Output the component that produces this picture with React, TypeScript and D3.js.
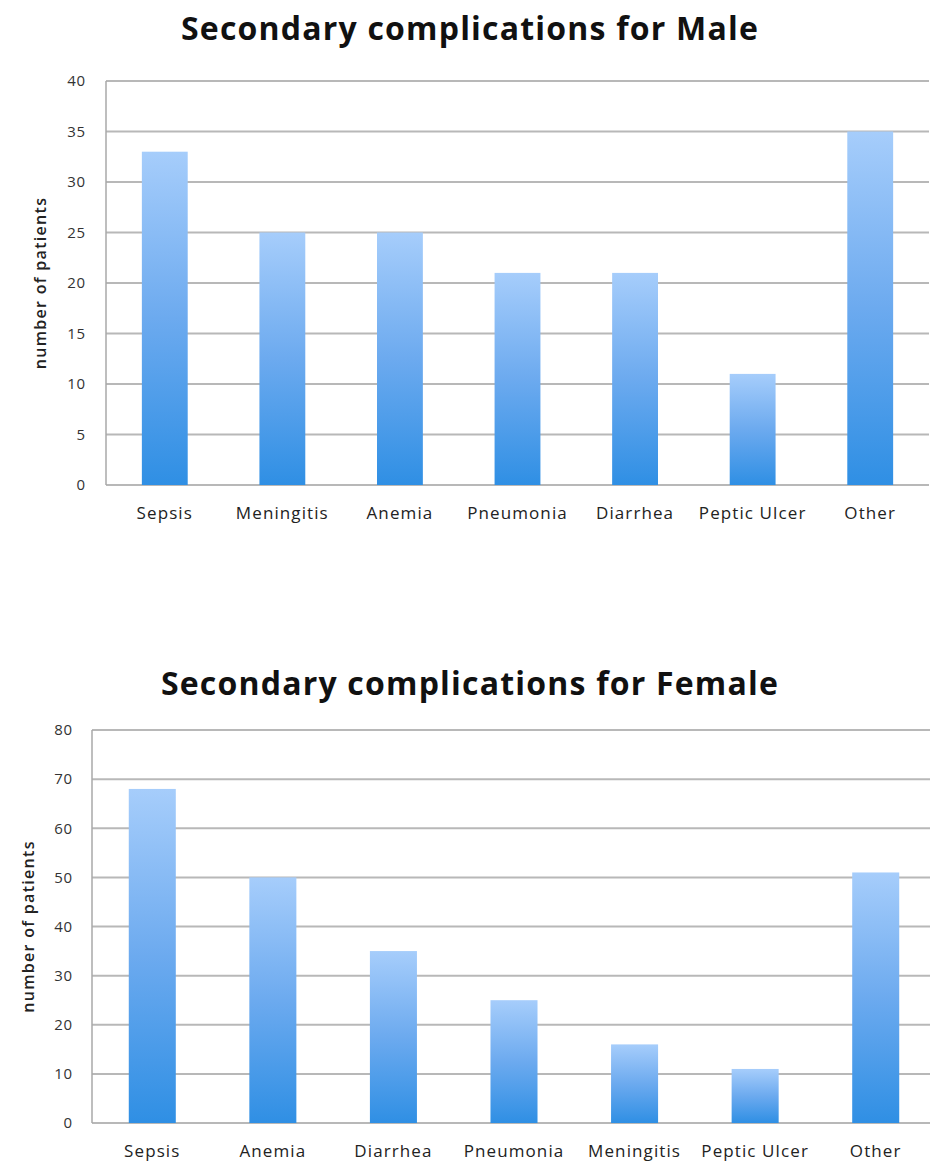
import { useEffect, useRef } from "react";
import { select, scaleBand, scaleLinear, range } from "d3";

const maleCategories = ["Sepsis", "Meningitis", "Anemia", "Pneumonia", "Diarrhea", "Peptic Ulcer", "Other"];
const maleValues = [33, 25, 25, 21, 21, 11, 35];
const maleTicks = range(0, 41, 5);

const femaleCategories = ["Sepsis", "Anemia", "Diarrhea", "Pneumonia", "Meningitis", "Peptic Ulcer", "Other"];
const femaleValues = [68, 50, 35, 25, 16, 11, 51];
const femaleTicks = range(0, 81, 10);

const yLabel = "number of patients";
const font = "'Open Sans', sans-serif";

interface Panel {
	id: string;
	title: string;
	categories: string[];
	values: number[];
	ticks: number[];
	left: number;
	right: number;
	top: number;
	bottom: number;
	titleY: number;
	tickX: number;
	labelX: number;
}

const panels: Panel[] = [
	{
		id: "male",
		title: "Secondary complications for Male",
		categories: maleCategories,
		values: maleValues,
		ticks: maleTicks,
		left: 106,
		right: 929,
		top: 81,
		bottom: 485,
		titleY: 40,
		tickX: 86,
		labelX: 46,
	},
	{
		id: "female",
		title: "Secondary complications for Female",
		categories: femaleCategories,
		values: femaleValues,
		ticks: femaleTicks,
		left: 92,
		right: 936,
		top: 730,
		bottom: 1123,
		titleY: 695,
		tickX: 73,
		labelX: 34,
	},
];

function drawPanel(svgEl: SVGSVGElement, p: Panel) {
	const svg = select(svgEl);
	const g = svg.append("g");

	const x = scaleBand()
		.domain(p.categories)
		.range([p.left, p.right])
		.paddingInner(0.61)
		.paddingOuter(0.305);
	const y = scaleLinear()
		.domain([0, p.ticks[p.ticks.length - 1]])
		.range([p.bottom, p.top]);

	g.append("text")
		.attr("x", 470)
		.attr("y", p.titleY)
		.attr("text-anchor", "middle")
		.attr("font-family", font)
		.attr("font-weight", 700)
		.attr("font-size", 32)
		.attr("letter-spacing", 1.2)
		.attr("fill", "#111")
		.text(p.title);

	// gridlines
	g.selectAll("line.grid")
		.data(p.ticks)
		.enter()
		.append("line")
		.attr("x1", p.left)
		.attr("x2", p.right)
		.attr("y1", (d) => y(d))
		.attr("y2", (d) => y(d))
		.attr("stroke", "#b8b8b8")
		.attr("stroke-width", 2);

	g.append("line")
		.attr("x1", p.left)
		.attr("x2", p.left)
		.attr("y1", p.top)
		.attr("y2", p.bottom)
		.attr("stroke", "#a8a8a8")
		.attr("stroke-width", 1.5);

	g.selectAll("text.tick")
		.data(p.ticks)
		.enter()
		.append("text")
		.attr("x", p.tickX)
		.attr("y", (d) => y(d))
		.attr("dy", "0.35em")
		.attr("text-anchor", "end")
		.attr("font-family", font)
		.attr("font-size", 15)
		.attr("letter-spacing", 0.8)
		.attr("fill", "#333")
		.text((d) => d);

	g.selectAll("rect.bar")
		.data(p.values)
		.enter()
		.append("rect")
		.attr("x", (_, i) => x(p.categories[i]) ?? 0)
		.attr("width", x.bandwidth())
		.attr("y", (d) => y(d))
		.attr("height", (d) => p.bottom - y(d))
		.attr("fill", "url(#barGrad)");

	g.selectAll("text.cat")
		.data(p.categories)
		.enter()
		.append("text")
		.attr("x", (d) => (x(d) ?? 0) + x.bandwidth() / 2)
		.attr("y", p.bottom + 34)
		.attr("text-anchor", "middle")
		.attr("font-family", font)
		.attr("font-size", 17)
		.attr("letter-spacing", 1.1)
		.attr("fill", "#222")
		.text((d) => d);

	g.append("text")
		.attr("transform", `translate(${p.labelX},${(p.top + p.bottom) / 2}) rotate(-90)`)
		.attr("text-anchor", "middle")
		.attr("font-family", font)
		.attr("font-weight", 600)
		.attr("font-size", 16)
		.attr("letter-spacing", 1.3)
		.attr("fill", "#222")
		.text(yLabel);
}

export default function App() {
	const svgRef = useRef<SVGSVGElement>(null);

	useEffect(() => {
		if (!svgRef.current) return;
		const svg = select(svgRef.current);
		svg.selectAll("*").remove();

		const grad = svg
			.append("defs")
			.append("linearGradient")
			.attr("id", "barGrad")
			.attr("x1", 0)
			.attr("x2", 0)
			.attr("y1", 0)
			.attr("y2", 1);
		grad.append("stop").attr("offset", "0%").attr("stop-color", "#a6cdfb");
		grad.append("stop").attr("offset", "50%").attr("stop-color", "#6caaef");
		grad.append("stop").attr("offset", "100%").attr("stop-color", "#2f8fe4");

		panels.forEach((p) => drawPanel(svgRef.current!, p));
	}, []);

	return (
		<div style={{ position: "absolute", left: 0, top: 0, width: 930, height: 1162, overflow: "hidden", background: "#fff" }}>
			<svg ref={svgRef} width={930} height={1162} />
		</div>
	);
}
